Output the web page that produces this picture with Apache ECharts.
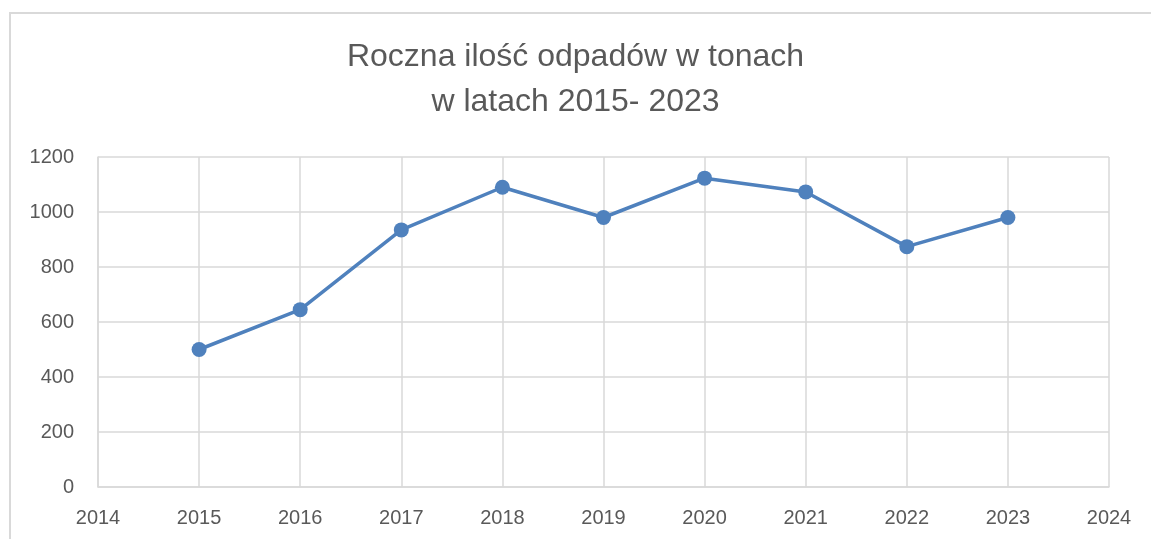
<!DOCTYPE html>
<html>
<head>
<meta charset="utf-8">
<script src="https://cdn.jsdelivr.net/npm/echarts@6/dist/echarts.min.js"></script>
<style>html,body{margin:0;padding:0;background:#fff;}#c{width:1151px;height:539px;}</style>
</head>
<body>
<div id="c"></div>
<script>
const years = [2015, 2016, 2017, 2018, 2019, 2020, 2021, 2022, 2023];
const values = [500, 645, 935, 1090, 980, 1123, 1073, 874, 980];
const titleText = 'Roczna ilość odpadów w tonach\nw latach 2015- 2023';

const chart = echarts.init(document.getElementById('c'), null, {renderer: 'canvas'});
const FONT = '"Liberation Sans", Arial, sans-serif';
const GRID = '#d9d9d9';
const TXT = '#595959';
chart.setOption({
  animation: false,
  backgroundColor: '#ffffff',
  title: {
    text: titleText,
    left: 'center',
    top: 35,
    padding: 0,
    textStyle: {fontFamily: FONT, fontSize: 32, fontWeight: 'normal', color: TXT, lineHeight: 45}
  },
  graphic: [{
    type: 'rect', silent: true, z: -1,
    shape: {x: 10, y: 13, width: 1170, height: 600},
    style: {fill: null, stroke: GRID, lineWidth: 2}
  }],
  grid: {left: 98, right: 42, top: 157, bottom: 52},
  xAxis: {
    type: 'value', min: 2014, max: 2024, interval: 1,
    axisLine: {show: true, lineStyle: {color: GRID, width: 1.5}},
    axisTick: {show: false},
    splitLine: {show: true, lineStyle: {color: GRID, width: 1.5}},
    axisLabel: {fontFamily: FONT, fontSize: 20, color: TXT, margin: 21, showMinLabel: true, showMaxLabel: true,
      formatter: v => String(v)}
  },
  yAxis: {
    type: 'value', min: 0, max: 1200, interval: 200,
    axisLine: {show: true, lineStyle: {color: GRID, width: 1.5}},
    axisTick: {show: false},
    splitLine: {show: true, lineStyle: {color: GRID, width: 1.5}},
    axisLabel: {fontFamily: FONT, fontSize: 20, color: TXT, margin: 24, formatter: v => String(v)}
  },
  series: [{
    type: 'line',
    data: years.map((y, i) => [y, values[i]]),
    symbol: 'circle', symbolSize: 15,
    lineStyle: {color: '#4f81bd', width: 3.5},
    itemStyle: {color: '#4f81bd'}
  }]
});
</script>
</body>
</html>
